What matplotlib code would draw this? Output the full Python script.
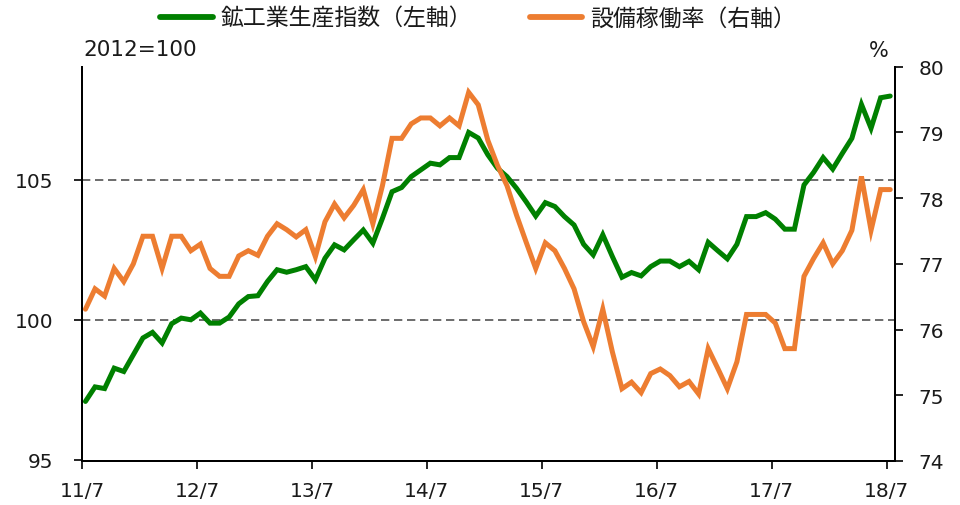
import numpy as np
import matplotlib
matplotlib.use("Agg")
import matplotlib.pyplot as plt
from matplotlib.font_manager import FontProperties

# ---- data (monthly, 2011/7 .. 2018/7) ----
ip_index = [97.08, 97.60, 97.54, 98.27, 98.15, 98.75, 99.35, 99.55, 99.17, 99.86,
            100.06, 100.00, 100.24, 99.88, 99.88, 100.10, 100.57, 100.83, 100.86, 101.37,
            101.79, 101.70, 101.79, 101.90, 101.43, 102.20, 102.68, 102.50, 102.86, 103.21,
            102.74, 103.63, 104.58, 104.73, 105.12, 105.36, 105.60, 105.54, 105.80, 105.80,
            106.70, 106.50, 105.90, 105.42, 105.12, 104.70, 104.22, 103.71, 104.19, 104.05,
            103.69, 103.39, 102.70, 102.32, 103.04, 102.26, 101.52, 101.69, 101.57, 101.90,
            102.10, 102.10, 101.90, 102.09, 101.79, 102.77, 102.47, 102.18, 102.70, 103.69,
            103.69, 103.83, 103.60, 103.24, 103.24, 104.82, 105.27, 105.80, 105.39, 105.95,
            106.49, 107.70, 106.85, 107.94, 108.00]
cap_util = [76.31, 76.62, 76.51, 76.93, 76.73, 77.00, 77.42, 77.42, 76.93, 77.42,
            77.42, 77.20, 77.30, 76.93, 76.81, 76.81, 77.12, 77.20, 77.13, 77.42,
            77.61, 77.52, 77.41, 77.52, 77.11, 77.64, 77.91, 77.70, 77.89, 78.13,
            77.61, 78.19, 78.91, 78.91, 79.13, 79.22, 79.22, 79.10, 79.22, 79.10,
            79.61, 79.42, 78.88, 78.50, 78.19, 77.74, 77.33, 76.93, 77.32, 77.20,
            76.93, 76.62, 76.12, 75.74, 76.31, 75.66, 75.10, 75.20, 75.04, 75.33,
            75.40, 75.30, 75.13, 75.21, 75.02, 75.71, 75.41, 75.10, 75.51, 76.23,
            76.23, 76.23, 76.10, 75.71, 75.71, 76.81, 77.08, 77.32, 77.00, 77.20,
            77.51, 78.33, 77.51, 78.13, 78.13]
x_labels = ["11/7", "12/7", "13/7", "14/7", "15/7", "16/7", "17/7", "18/7"]
left_ticks = [95, 100, 105]
right_ticks = [74, 75, 76, 77, 78, 79, 80]
grid_levels = [100, 105]
series_names = ["鉱工業生産指数（左軸）", "設備稼働率（右軸）"]

GREEN = "#008000"
ORANGE = "#ED7D31"
TXT = "#1a1a1a"

plt.rcParams["font.family"] = ["DejaVu Sans"]

fig = plt.figure(figsize=(9.6, 5.06), dpi=100)
ax = fig.add_axes([82/960, 44/506, (895-82)/960, (462-67.7)/506])
ax2 = ax.twinx()

x = np.arange(len(ip_index))

for g in grid_levels:
    ax.axhline(g, color="#606060", lw=1.3, linestyle=(0, (4.6, 2.6)), zorder=1)

l1, = ax.plot(x, ip_index, color=GREEN, lw=3.6, solid_capstyle="round",
              solid_joinstyle="miter", zorder=3, label=series_names[0])
l2, = ax2.plot(x, cap_util, color=ORANGE, lw=3.6, solid_capstyle="round",
               solid_joinstyle="miter", zorder=3, label=series_names[1])

ax.set_xlim(-0.36, 84.5)
ax.set_ylim(94.95, 109.05)
ax2.set_ylim(74, 80)

ax.set_xticks(np.arange(0, 85, 12) - 0.36)
ax.set_xticklabels(x_labels)
ax.set_yticks(left_ticks)
ax2.set_yticks(right_ticks)

for a in (ax, ax2):
    a.spines["top"].set_visible(False)
    for s in a.spines.values():
        s.set_linewidth(1.4)
        s.set_color("black")

ax.tick_params(axis="x", direction="out", length=5.5, width=1.2, pad=9,
               labelsize=14.5, labelcolor=TXT)
ax.tick_params(axis="y", direction="out", length=5.8, width=1.2, pad=15,
               labelsize=14.5, labelcolor=TXT)
ax2.tick_params(axis="y", direction="out", length=5.5, width=1.2, pad=11.5,
                labelsize=14.5, labelcolor=TXT)

fig.text(83/960, 1 - 50.5/506, "2012=100", ha="left", va="center",
         fontsize=15.5, color=TXT)
fig.text(879/960, 1 - 51/506, "%", ha="center", va="center",
         fontsize=15, color=TXT)

fp = FontProperties(family=["Noto Sans CJK JP", "DejaVu Sans"], size=16.5)
leg = fig.legend(handles=[l1, l2], loc="center", bbox_to_anchor=(0.498, 0.962),
                 ncol=2, frameon=False, prop=fp, handlelength=2.3,
                 handletextpad=0.35, columnspacing=2.5, borderaxespad=0)
for t in leg.get_texts():
    t.set_color(TXT)
for h in leg.legend_handles:
    h.set_linewidth(4.2)

fig.savefig("out.png", dpi=100)
